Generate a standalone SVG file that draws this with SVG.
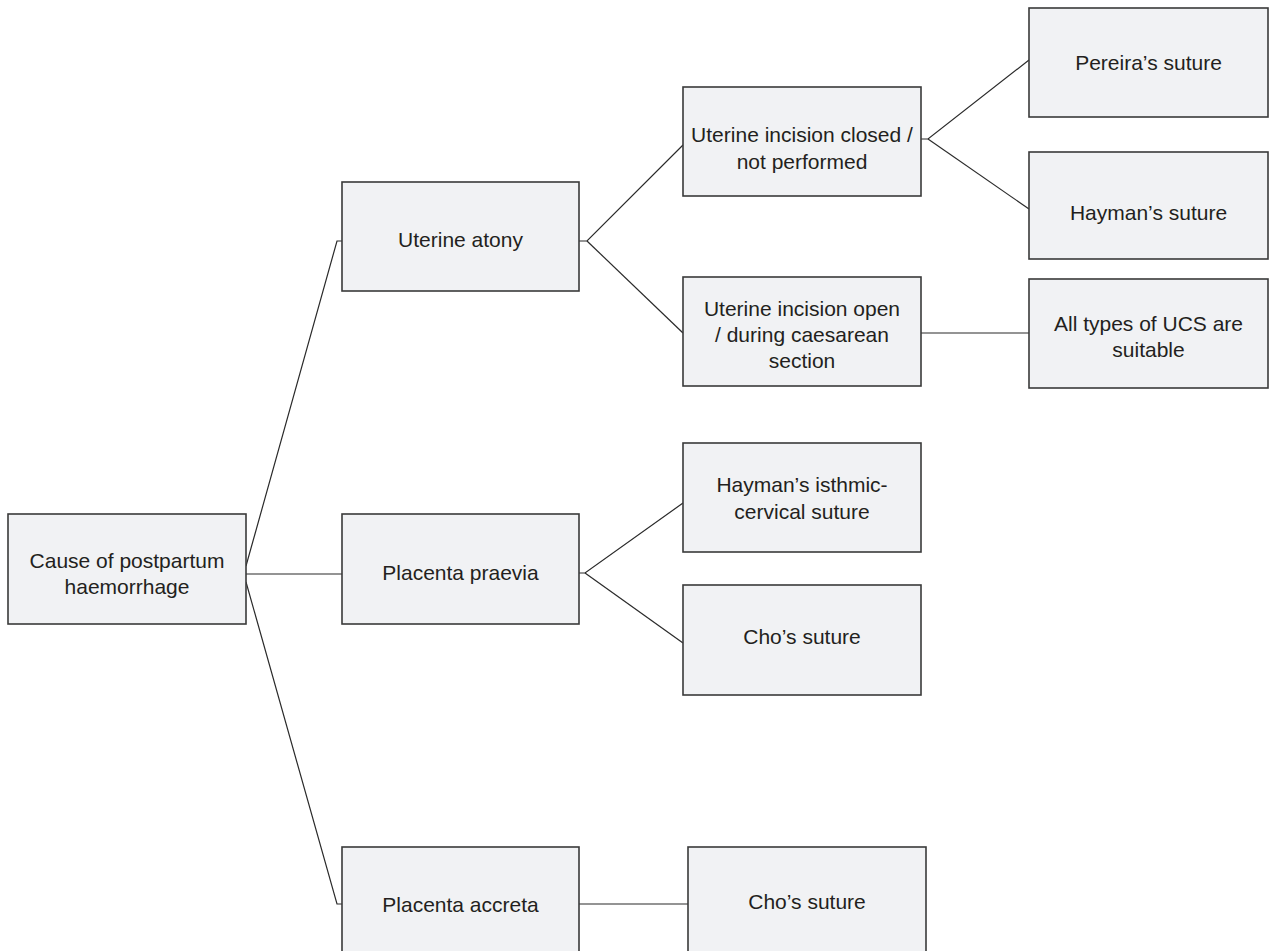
<svg xmlns="http://www.w3.org/2000/svg" width="1273" height="951" viewBox="0 0 1273 951">
<style>
.box{fill:#f1f2f4;stroke:#3a3a3a;stroke-width:1.6}
.t{font-family:"Liberation Sans",Arial,sans-serif;font-size:21px;fill:#231f20;text-anchor:middle}
.c{fill:none;stroke:#2a2a2a;stroke-width:1.2}
</style>
<rect width="1273" height="951" fill="#ffffff"/>
<g id="connectors">
<polyline class="c" points="246,566 337,241 342,241"/>
<line class="c" x1="246" y1="574" x2="342" y2="574"/>
<polyline class="c" points="246,582 337,904 342,904"/>
<polyline class="c" points="579,241 587,241 683,145"/>
<line class="c" x1="587" y1="241" x2="683" y2="333"/>
<polyline class="c" points="921,139 928,139 1029,60"/>
<line class="c" x1="928" y1="139" x2="1029" y2="209"/>
<line class="c" x1="921" y1="333" x2="1029" y2="333"/>
<polyline class="c" points="579,573 585,573 683,503"/>
<line class="c" x1="585" y1="573" x2="683" y2="643"/>
<line class="c" x1="579" y1="904" x2="688" y2="904"/>
</g>
<g id="root">
<rect class="box" x="8" y="514" width="238" height="110"/>
<text class="t" x="127" y="568">Cause of postpartum</text>
<text class="t" x="127" y="594">haemorrhage</text>
</g>
<g id="uterine-atony">
<rect class="box" x="342" y="182" width="237" height="109"/>
<text class="t" x="460.5" y="247">Uterine atony</text>
</g>
<g id="placenta-praevia">
<rect class="box" x="342" y="514" width="237" height="110"/>
<text class="t" x="460.5" y="580">Placenta praevia</text>
</g>
<g id="placenta-accreta">
<rect class="box" x="342" y="847" width="237" height="110"/>
<text class="t" x="460.5" y="912">Placenta accreta</text>
</g>
<g id="incision-closed">
<rect class="box" x="683" y="87" width="238" height="109"/>
<text class="t" x="802" y="142">Uterine incision closed /</text>
<text class="t" x="802" y="169">not performed</text>
</g>
<g id="incision-open">
<rect class="box" x="683" y="277" width="238" height="109"/>
<text class="t" x="802" y="316">Uterine incision open</text>
<text class="t" x="802" y="342">/ during caesarean</text>
<text class="t" x="802" y="368">section</text>
</g>
<g id="pereira">
<rect class="box" x="1029" y="8" width="239" height="109"/>
<text class="t" x="1148.5" y="70">Pereira’s suture</text>
</g>
<g id="hayman">
<rect class="box" x="1029" y="152" width="239" height="107"/>
<text class="t" x="1148.5" y="220">Hayman’s suture</text>
</g>
<g id="ucs">
<rect class="box" x="1029" y="279" width="239" height="109"/>
<text class="t" x="1148.5" y="331">All types of UCS are</text>
<text class="t" x="1148.5" y="357">suitable</text>
</g>
<g id="hayman-isthmic">
<rect class="box" x="683" y="443" width="238" height="109"/>
<text class="t" x="802" y="492">Hayman’s isthmic-</text>
<text class="t" x="802" y="519">cervical suture</text>
</g>
<g id="cho-praevia">
<rect class="box" x="683" y="585" width="238" height="110"/>
<text class="t" x="802" y="644">Cho’s suture</text>
</g>
<g id="cho-accreta">
<rect class="box" x="688" y="847" width="238" height="110"/>
<text class="t" x="807" y="909">Cho’s suture</text>
</g>
</svg>
